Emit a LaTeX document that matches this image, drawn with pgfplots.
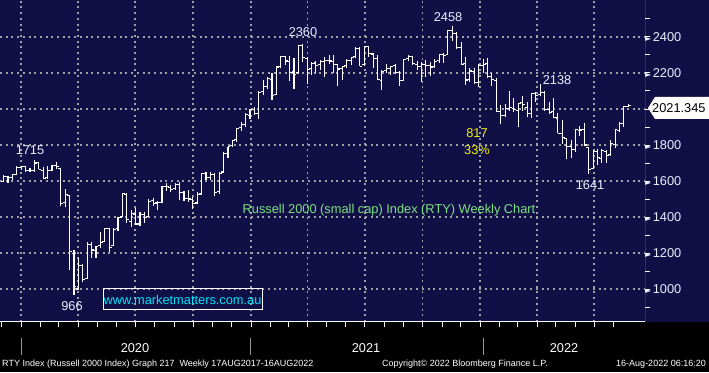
\documentclass[border=0pt]{standalone}
\usepackage{pgfplots}
\usepackage{pgfplotstable}
\pgfplotsset{compat=1.18}
\usepackage{fontspec}
\setmainfont{Liberation Sans}
\newfontfamily\trifont{DejaVu Sans}
\definecolor{bgnavy}{RGB}{17,16,70}
\definecolor{gridgray}{RGB}{160,160,165}
\definecolor{ttlgreen}{RGB}{125,225,130}
\definecolor{wwwcyan}{RGB}{0,225,250}
\definecolor{annyel}{RGB}{240,240,20}
\definecolor{lblwhite}{RGB}{235,240,255}
\definecolor{sepgray}{RGB}{150,150,150}

\pgfdeclareplotmark{ohlcopen}{\pgfpathmoveto{\pgfqpoint{-2.4pt}{0pt}}\pgfpathlineto{\pgfqpoint{0pt}{0pt}}\pgfusepathqstroke}
\pgfdeclareplotmark{ohlcclose}{\pgfpathmoveto{\pgfqpoint{0pt}{0pt}}\pgfpathlineto{\pgfqpoint{2.4pt}{0pt}}\pgfusepathqstroke}

\pgfplotstableread{
k O H L C
-6 1590 1605 1585 1598
-5 1598 1633 1596 1625
-4 1625 1628 1590 1619
-3 1619 1641 1606 1636
-2 1637 1683 1636 1677
-1 1677 1680 1661 1678
0 1678 1679 1651 1660
1 1658 1673 1652 1658
2 1660 1715 1652 1700
3 1702 1705 1664 1662
4 1658 1675 1614 1614
5 1620 1686 1610 1657
6 1660 1691 1655 1687
7 1687 1706 1669 1678
8 1670 1670 1459 1476
9 1480 1556 1453 1523
10 1520 1520 1107 1210
11 1195 1217 966 1014
12 1000 1175 992 1131
13 1131 1140 1040 1052
14 1060 1260 1058 1246
15 1245 1260 1170 1217
16 1212 1240 1175 1236
17 1240 1315 1228 1260
18 1262 1337 1262 1334
19 1334 1340 1207 1233
20 1240 1340 1238 1332
21 1335 1400 1325 1395
22 1400 1530 1398 1530
23 1525 1536 1369 1387
24 1377 1440 1344 1418
25 1415 1450 1358 1361
26 1361 1428 1352 1415
27 1415 1430 1368 1398
28 1405 1500 1405 1487
29 1490 1508 1460 1476
30 1478 1490 1440 1480
31 1483 1570 1480 1568
32 1570 1590 1545 1567
33 1565 1577 1540 1555
34 1560 1590 1550 1578
35 1580 1596 1495 1535
36 1536 1545 1490 1502
37 1503 1550 1485 1500
38 1498 1510 1443 1475
39 1478 1540 1470 1525
40 1528 1645 1525 1640
41 1640 1650 1605 1618
42 1620 1650 1605 1637
43 1635 1645 1515 1538
44 1540 1650 1530 1644
45 1650 1760 1645 1753
46 1755 1790 1730 1790
47 1795 1830 1790 1826
48 1828 1895 1815 1893
49 1895 1925 1875 1914
50 1915 1980 1900 1969
51 1965 2000 1942 1996
52 1996 2010 1965 1975
53 1976 2098 1945 2092
54 2095 2160 2080 2123
55 2125 2175 2110 2168
56 2165 2200 2050 2073
57 2078 2240 2075 2233
58 2238 2295 2225 2289
59 2290 2296 2245 2266
60 2265 2295 2155 2201
61 2205 2285 2110 2192
62 2200 2352 2195 2352
63 2352 2360 2260 2286
64 2280 2290 2140 2221
65 2225 2260 2190 2254
66 2255 2265 2200 2243
67 2245 2270 2215 2264
68 2265 2290 2180 2271
69 2270 2300 2250 2266
70 2265 2300 2200 2247
71 2245 2250 2130 2222
72 2225 2240 2160 2236
73 2240 2275 2225 2268
74 2270 2290 2245 2287
75 2290 2345 2285 2335
76 2335 2345 2238 2238
77 2245 2345 2240 2346
78 2345 2350 2290 2310
79 2305 2310 2230 2280
80 2280 2300 2160 2163
81 2160 2215 2105 2210
82 2215 2250 2200 2226
83 2225 2240 2190 2236
84 2240 2250 2195 2204
85 2200 2210 2130 2157
86 2160 2280 2155 2277
87 2280 2300 2265 2292
88 2290 2295 2245 2250
89 2245 2265 2215 2237
90 2235 2260 2150 2248
91 2245 2270 2180 2241
92 2240 2260 2185 2233
93 2235 2275 2225 2265
94 2268 2300 2255 2302
95 2300 2310 2255 2297
96 2300 2440 2300 2437
97 2437 2458 2375 2418
98 2420 2430 2335 2343
99 2340 2370 2245 2245
100 2250 2290 2135 2161
101 2165 2225 2150 2211
102 2210 2230 2140 2146
103 2145 2250 2120 2242
104 2240 2275 2200 2245
105 2250 2285 2170 2180
106 2180 2200 2130 2163
107 2160 2170 1985 1988
108 1985 2020 1915 1964
109 1965 2030 1955 2002
110 2005 2100 1990 2006
111 2005 2060 1985 1996
112 1990 2035 1900 2030
113 2035 2070 1990 2025
114 2010 2040 1955 1977
115 1975 2090 1950 2086
116 2085 2095 2040 2077
117 2080 2138 2070 2091
118 2090 2100 1990 1996
119 1995 2040 1970 1981
120 1985 2060 1950 1955
121 1950 1980 1865 1864
122 1866 1940 1805 1839
123 1835 1840 1720 1792
124 1790 1830 1730 1773
125 1775 1887 1760 1887
126 1880 1905 1850 1883
127 1885 1920 1800 1800
128 1785 1790 1641 1665
129 1670 1770 1665 1765
130 1765 1780 1690 1728
131 1725 1775 1700 1769
132 1765 1770 1700 1743
133 1745 1830 1740 1806
134 1805 1890 1785 1885
135 1880 1930 1870 1921
136 1920 2016 1900 2016
137 2016 2030 2010 2021
}\ohlc

\begin{document}
\begin{tikzpicture}
\useasboundingbox (0,0) rectangle (709pt,372pt);
\fill[black] (0,0) rectangle (709pt,372pt);
\fill[bgnavy] (0,50pt) rectangle (709pt,372pt);
\begin{axis}[
  at={(0pt,50pt)}, anchor=south west,
  scale only axis, width=645pt, height=322pt,
  xmin=-5.82, xmax=140.8, ymin=817, ymax=2605,
  axis line style={draw=none},
  xtick={-1.05,11.95,24.95,38.09,51.24,64.09,77.09,90.24,103.38,116.24,129.24},
  minor xtick={-5.48,3.38,7.52,16.24,20.66,29.38,33.81,42.52,46.81,55.66,59.66,68.38,72.81,81.52,85.95,94.66,98.95,107.81,111.81,120.53,124.95,133.66},
  xticklabels={},
  ytick={1000,1200,1400,1600,1800,2200,2400},
  extra y ticks={2000},
  extra y tick labels={},
  extra y tick style={ymajorgrids=true},
  minor ytick={900,1100,1300,1500,1700,1900,2100,2300,2500},
  xtick pos=left, ytick pos=right, yticklabel pos=right,
  tick align=outside,
  major tick length=5pt, minor tick length=5pt,
  tick style={white, line width=0.9pt},
  xmajorgrids, ymajorgrids,
  major grid style={gridgray, line width=1.8pt, dash pattern=on 2pt off 3.7pt},
  /pgf/number format/1000 sep={},
  /pgf/number format/assume math mode=true,
  yticklabel={{\trifont\fontsize{8}{8}\selectfont ►}\hspace{1.5pt}\pgfmathprintnumber{\tick}},
  yticklabel style={font=\fontsize{12.8}{13}\selectfont, text=lblwhite, anchor=west, inner sep=0pt, xshift=-5pt},
]
\addplot[draw=none, mark=none, forget plot,
  error bars/.cd, y dir=plus, y explicit, error mark=none,
  error bar style={draw=white, solid, line width=1.1pt}]
  table[x=k, y=L, y error expr=\thisrow{H}-\thisrow{L}] {\ohlc};
\addplot[white, line width=1.1pt, only marks, mark=ohlcopen] table[x=k, y=O] {\ohlc};
\addplot[white, line width=1.1pt, only marks, mark=ohlcclose] table[x=k, y=C] {\ohlc};
\draw[white, line width=1pt] (rel axis cs:0,0) -- (rel axis cs:1,0);
\draw[white, line width=1pt] (rel axis cs:1,0) -- (rel axis cs:1,1);
\end{axis}
% annotations
\begin{scope}[every node/.style={font=\fontsize{12.8}{13}\selectfont, inner sep=0pt}]
\node[text=lblwhite] at (30pt,222pt) {1715};
\node[text=lblwhite] at (72pt,66pt) {966};
\node[text=lblwhite] at (303pt,340pt) {2360};
\node[text=lblwhite] at (448pt,355pt) {2458};
\node[text=lblwhite] at (557pt,292pt) {2138};
\node[text=lblwhite] at (590pt,187pt) {1641};
\node[text=annyel] at (477pt,239pt) {817};
\node[text=annyel] at (477pt,222pt) {33\%};
\node[text=ttlgreen] at (389pt,162pt) {Russell 2000 (small cap) Index (RTY) Weekly Chart};
\draw[white, line width=1pt] (103pt,62pt) rectangle (262pt,83pt);
\node[text=wwwcyan] at (182.5pt,72.5pt) {www.marketmatters.com.au};
% last price box
\fill[white] (648pt,264pt) -- (655pt,275pt) -- (709pt,275pt) -- (709pt,253pt) -- (655pt,253pt) -- cycle;
\node[text=black, anchor=west] at (652pt,264pt) {2021.345};
% years
\node[text=white] at (135pt,24pt) {2020};
\node[text=white] at (366pt,24pt) {2021};
\node[text=white] at (564pt,24pt) {2022};
\end{scope}
\draw[sepgray, line width=0.8pt] (21pt,17pt) -- (21pt,34pt);
\draw[sepgray, line width=0.8pt] (250pt,17pt) -- (250pt,34pt);
\draw[sepgray, line width=0.8pt] (483pt,17pt) -- (483pt,34pt);
\begin{scope}[every node/.style={font=\fontsize{9}{10}\selectfont, inner sep=0pt, text=white}]
\node[anchor=west] at (2pt,8pt) {RTY Index (Russell 2000 Index) Graph 217\ \ Weekly 17AUG2017-16AUG2022};
\node[anchor=west] at (382pt,8pt) {Copyright\textcopyright\ 2022 Bloomberg Finance L.P.};
\node[anchor=east] at (706pt,8pt) {16-Aug-2022 06:16:20};
\end{scope}
\end{tikzpicture}
\end{document}
